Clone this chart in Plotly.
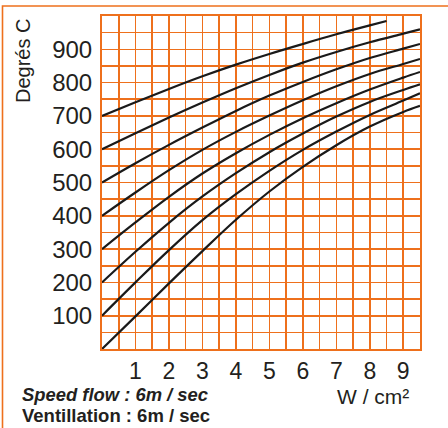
import plotly.graph_objects as go

# Data
x_vals = [0, 1, 2, 3, 4, 5, 6, 7, 8, 9, 9.5]
curve_700_x = [0, 1, 2, 3, 4, 5, 6, 7, 8, 8.5]
curve_700 = [700, 741, 781, 819, 854, 886, 916, 945, 972, 985]
curve_600 = [600, 648, 695, 740, 783, 823, 860, 892, 921, 947, 960]
curve_500 = [500, 558, 613, 665, 715, 761, 802, 840, 874, 902, 916]
curve_400 = [400, 470, 537, 598, 652, 701, 747, 789, 826, 856, 871]
curve_300 = [300, 380, 457, 527, 588, 643, 693, 738, 779, 815, 832]
curve_200 = [200, 292, 379, 458, 528, 591, 647, 698, 742, 778, 795]
curve_100 = [100, 200, 297, 387, 465, 535, 598, 653, 703, 746, 768]
curve_0 = [0, 98, 197, 294, 388, 473, 547, 612, 668, 712, 730]

x_ticks = [1, 2, 3, 4, 5, 6, 7, 8, 9]
y_ticks = [100, 200, 300, 400, 500, 600, 700, 800, 900]

ORANGE = "#EE701C"
TEXT = "#231F20"
FONT = "Liberation Sans, Arial, sans-serif"

fig = go.Figure()

series = [
    (curve_700_x, curve_700),
    (x_vals, curve_600),
    (x_vals, curve_500),
    (x_vals, curve_400),
    (x_vals, curve_300),
    (x_vals, curve_200),
    (x_vals, curve_100),
    (x_vals, curve_0),
]
for xs, ys in series:
    fig.add_trace(go.Scatter(
        x=xs, y=ys, mode="lines",
        line=dict(color="#1A1A1A", width=2.2, shape="spline", smoothing=1.0),
        showlegend=False, hoverinfo="skip",
    ))

W, H = 448, 428
L, R, T, B = 102, 420, 16, 349

def px(xp):
    return (xp - L) / (R - L)

def py(yp):
    return (B - yp) / (B - T)

fig.update_layout(
    width=W, height=H,
    margin=dict(l=L, r=W - R, t=T, b=H - B),
    paper_bgcolor="white", plot_bgcolor="white",
    font=dict(family=FONT, color=TEXT),
    xaxis=dict(
        range=[0, 9.5], tickvals=x_ticks, ticktext=[str(v) for v in x_ticks],
        showgrid=True, gridcolor=ORANGE, gridwidth=1.6,
        minor=dict(dtick=0.5, tick0=0, showgrid=True, gridcolor=ORANGE, gridwidth=1.6),
        showline=True, linecolor=ORANGE, linewidth=2, mirror=True,
        ticks="", ticklabelstandoff=0, zeroline=False,
        tickfont=dict(size=23, color=TEXT, family=FONT),
        fixedrange=True,
    ),
    yaxis=dict(
        range=[0, 1000], tickvals=y_ticks, ticktext=[str(v) for v in y_ticks],
        showgrid=True, gridcolor=ORANGE, gridwidth=1.6,
        minor=dict(dtick=50, tick0=0, showgrid=True, gridcolor=ORANGE, gridwidth=1.6),
        showline=True, linecolor=ORANGE, linewidth=2, mirror=True,
        ticks="", ticklabelstandoff=3, zeroline=False,
        tickfont=dict(size=24, color=TEXT, family=FONT),
        fixedrange=True,
    ),
    shapes=[
        dict(type="rect", xref="paper", yref="paper",
             x0=px(2.5), x1=px(470), y0=py(460), y1=py(6),
             line=dict(color=ORANGE, width=1.6), fillcolor="rgba(0,0,0,0)", layer="below"),
    ],
    annotations=[
        dict(text="Degrés C", xref="paper", yref="paper", x=px(23), y=py(61),
             textangle=-90, showarrow=False, xanchor="center", yanchor="middle",
             font=dict(size=20, color=TEXT, family=FONT)),
        dict(text="W / cm²", xref="paper", yref="paper", x=px(411), y=py(396),
             showarrow=False, xanchor="right", yanchor="middle",
             font=dict(size=21, color=TEXT, family=FONT)),
        dict(text="<b><i>Speed flow : 6m / sec</i></b>", xref="paper", yref="paper",
             x=px(20), y=py(394), showarrow=False, xanchor="left", yanchor="middle",
             font=dict(size=18.4, color=TEXT, family=FONT)),
        dict(text="<b>Ventillation : 6m / sec</b>", xref="paper", yref="paper",
             x=px(20), y=py(415), showarrow=False, xanchor="left", yanchor="middle",
             font=dict(size=18.5, color=TEXT, family=FONT)),
    ],
)

fig.write_html(
    "out.html",
    config={"displayModeBar": False, "staticPlot": True},
    post_script="document.body.style.margin='0';document.body.style.padding='0';",
)
